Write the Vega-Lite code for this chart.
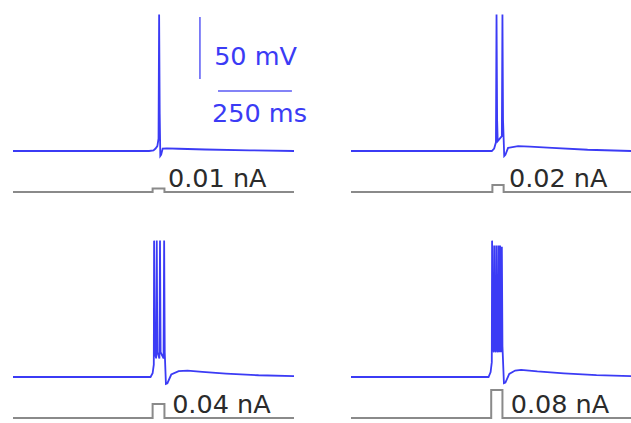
{
  "$schema": "https://vega.github.io/schema/vega-lite/v6.json",
  "padding": {"left": 9, "top": 0, "right": 0, "bottom": 0},
  "bounds": "flush",
  "background": "white",
  "config": {"view": {"stroke": null}, "font": "DejaVu Sans"},
  "data": {"values": [
    {"p":1,"k":"v","t":0,"y":-70},{"p":1,"k":"v","t":460,"y":-70},{"p":1,"k":"v","t":475,"y":-69.5},{"p":1,"k":"v","t":482,"y":-68},{"p":1,"k":"v","t":488,"y":-66},{"p":1,"k":"v","t":492,"y":-60},{"p":1,"k":"v","t":494,"y":40},{"p":1,"k":"v","t":496,"y":-40},{"p":1,"k":"v","t":498,"y":-74},{"p":1,"k":"v","t":501,"y":-73},{"p":1,"k":"v","t":506,"y":-68},{"p":1,"k":"v","t":520,"y":-67.8},{"p":1,"k":"v","t":560,"y":-68.2},{"p":1,"k":"v","t":650,"y":-68.8},{"p":1,"k":"v","t":800,"y":-69.5},{"p":1,"k":"v","t":950,"y":-70},
    {"p":2,"k":"v","t":0,"y":-70},{"p":2,"k":"v","t":476,"y":-70},{"p":2,"k":"v","t":484,"y":-68},{"p":2,"k":"v","t":490,"y":-63},{"p":2,"k":"v","t":492,"y":40},{"p":2,"k":"v","t":494,"y":-45},{"p":2,"k":"v","t":496,"y":-62},{"p":2,"k":"v","t":503,"y":-60},{"p":2,"k":"v","t":510,"y":-58},{"p":2,"k":"v","t":512,"y":40},{"p":2,"k":"v","t":514,"y":-45},{"p":2,"k":"v","t":518,"y":-74},{"p":2,"k":"v","t":522,"y":-73},{"p":2,"k":"v","t":531,"y":-67.5},{"p":2,"k":"v","t":565,"y":-66},{"p":2,"k":"v","t":605,"y":-66.5},{"p":2,"k":"v","t":680,"y":-67.5},{"p":2,"k":"v","t":800,"y":-69},{"p":2,"k":"v","t":950,"y":-70},
    {"p":3,"k":"v","t":0,"y":-70},{"p":3,"k":"v","t":465,"y":-70},{"p":3,"k":"v","t":472,"y":-67},{"p":3,"k":"v","t":476,"y":-60},{"p":3,"k":"v","t":477,"y":40},{"p":3,"k":"v","t":479,"y":-50},{"p":3,"k":"v","t":484,"y":-55},{"p":3,"k":"v","t":486,"y":40},{"p":3,"k":"v","t":488,"y":-50},{"p":3,"k":"v","t":495,"y":-55},{"p":3,"k":"v","t":497,"y":40},{"p":3,"k":"v","t":499,"y":-50},{"p":3,"k":"v","t":509,"y":-55},{"p":3,"k":"v","t":511,"y":40},{"p":3,"k":"v","t":513,"y":-50},{"p":3,"k":"v","t":517,"y":-75.5},{"p":3,"k":"v","t":522,"y":-75},{"p":3,"k":"v","t":535,"y":-68},{"p":3,"k":"v","t":560,"y":-65.3},{"p":3,"k":"v","t":590,"y":-64.9},{"p":3,"k":"v","t":640,"y":-65.8},{"p":3,"k":"v","t":720,"y":-67.2},{"p":3,"k":"v","t":830,"y":-68.6},{"p":3,"k":"v","t":950,"y":-69.3},
    {"p":4,"k":"v","t":0,"y":-70},{"p":4,"k":"v","t":465,"y":-70},{"p":4,"k":"v","t":472,"y":-66},{"p":4,"k":"v","t":476,"y":-58},{"p":4,"k":"v","t":477,"y":40},{"p":4,"k":"v","t":479,"y":-45},{"p":4,"k":"v","t":483,"y":-50},{"p":4,"k":"v","t":484,"y":36},{"p":4,"k":"v","t":486,"y":-45},{"p":4,"k":"v","t":490,"y":-50},{"p":4,"k":"v","t":491,"y":36},{"p":4,"k":"v","t":493,"y":-45},{"p":4,"k":"v","t":497,"y":-50},{"p":4,"k":"v","t":498,"y":36},{"p":4,"k":"v","t":500,"y":-45},{"p":4,"k":"v","t":503,"y":-50},{"p":4,"k":"v","t":504,"y":36},{"p":4,"k":"v","t":506,"y":-45},{"p":4,"k":"v","t":509,"y":-50},{"p":4,"k":"v","t":510,"y":35},{"p":4,"k":"v","t":512,"y":-45},{"p":4,"k":"v","t":517,"y":-75},{"p":4,"k":"v","t":522,"y":-74.5},{"p":4,"k":"v","t":535,"y":-67.5},{"p":4,"k":"v","t":555,"y":-64.8},{"p":4,"k":"v","t":575,"y":-64.2},{"p":4,"k":"v","t":630,"y":-65.5},{"p":4,"k":"v","t":720,"y":-67},{"p":4,"k":"v","t":830,"y":-68.5},{"p":4,"k":"v","t":950,"y":-69.3},
    {"p":1,"k":"i","o":0,"t":0,"y":0},{"p":1,"k":"i","o":1,"t":472,"y":0},{"p":1,"k":"i","o":2,"t":472,"y":0.01},{"p":1,"k":"i","o":3,"t":512,"y":0.01},{"p":1,"k":"i","o":4,"t":512,"y":0},{"p":1,"k":"i","o":5,"t":950,"y":0},
    {"p":2,"k":"i","o":0,"t":0,"y":0},{"p":2,"k":"i","o":1,"t":478,"y":0},{"p":2,"k":"i","o":2,"t":478,"y":0.02},{"p":2,"k":"i","o":3,"t":516,"y":0.02},{"p":2,"k":"i","o":4,"t":516,"y":0},{"p":2,"k":"i","o":5,"t":950,"y":0},
    {"p":3,"k":"i","o":0,"t":0,"y":0},{"p":3,"k":"i","o":1,"t":472,"y":0},{"p":3,"k":"i","o":2,"t":472,"y":0.04},{"p":3,"k":"i","o":3,"t":512,"y":0.04},{"p":3,"k":"i","o":4,"t":512,"y":0},{"p":3,"k":"i","o":5,"t":950,"y":0},
    {"p":4,"k":"i","o":0,"t":0,"y":0},{"p":4,"k":"i","o":1,"t":474,"y":0},{"p":4,"k":"i","o":2,"t":474,"y":0.08},{"p":4,"k":"i","o":3,"t":512,"y":0.08},{"p":4,"k":"i","o":4,"t":512,"y":0},{"p":4,"k":"i","o":5,"t":950,"y":0},
    {"p":1,"k":"lab","t":524,"y":0.014,"s":"0.01 nA"},
    {"p":2,"k":"lab","t":534,"y":0.014,"s":"0.02 nA"},
    {"p":3,"k":"lab","t":538,"y":0.013,"s":"0.04 nA"},
    {"p":4,"k":"lab","t":540,"y":0.013,"s":"0.08 nA"},
    {"p":1,"k":"bar","t":632,"t2":632,"y":-12,"y2":38},
    {"p":1,"k":"bar","t":693,"t2":943,"y":-21.6,"y2":-21.6},
    {"p":1,"k":"bt","t":680,"y":-0.7,"s":"50 mV"},
    {"p":1,"k":"bt","t":673,"y":-46.4,"s":"250 ms"}
  ]},
  "columns": 2,
  "spacing": {"row": 29, "column": 57},
  "concat": [
    {
      "width": 281, "height": 197,
      "transform": [{"filter": "datum.p == 1"}],
      "encoding": {"x": {"field": "t", "type": "quantitative", "scale": {"domain": [0, 950], "nice": false, "zero": false}, "axis": null}},
      "layer": [
        {"transform": [{"filter": "datum.k == 'v'"}], "mark": {"type": "line", "color": "#3b3bf5", "strokeWidth": 1.8},
         "encoding": {"y": {"field": "y", "type": "quantitative", "scale": {"domain": [-107.1, 51.8], "nice": false, "zero": false}, "axis": null}}},
        {"transform": [{"filter": "datum.k == 'i'"}], "mark": {"type": "line", "color": "#8a8a8a", "strokeWidth": 2},
         "encoding": {"y": {"field": "y", "type": "quantitative", "scale": {"domain": [-0.01429, 0.5486], "nice": false, "zero": false}, "axis": null}, "order": {"field": "o", "type": "quantitative"}}},
        {"transform": [{"filter": "datum.k == 'lab'"}], "mark": {"type": "text", "align": "left", "baseline": "alphabetic", "fontSize": 25.5, "color": "#2b2b2b", "font": "DejaVu Sans"},
         "encoding": {"y": {"field": "y", "type": "quantitative", "scale": {"domain": [-0.01429, 0.5486], "nice": false, "zero": false}, "axis": null}, "text": {"field": "s", "type": "nominal"}}},
        {"transform": [{"filter": "datum.k == 'bar'"}], "mark": {"type": "rule", "color": "#5a5af5", "strokeWidth": 1.5},
         "encoding": {"x2": {"field": "t2"}, "y": {"field": "y", "type": "quantitative", "scale": {"domain": [-107.1, 51.8], "nice": false, "zero": false}, "axis": null}, "y2": {"field": "y2"}}},
        {"transform": [{"filter": "datum.k == 'bt'"}], "mark": {"type": "text", "align": "left", "baseline": "alphabetic", "fontSize": 25.5, "color": "#3b3bf5", "font": "DejaVu Sans"},
         "encoding": {"y": {"field": "y", "type": "quantitative", "scale": {"domain": [-107.1, 51.8], "nice": false, "zero": false}, "axis": null}, "text": {"field": "s", "type": "nominal"}}}
      ],
      "resolve": {"scale": {"y": "independent"}}
    },
    {
      "width": 281, "height": 197,
      "transform": [{"filter": "datum.p == 2"}],
      "encoding": {"x": {"field": "t", "type": "quantitative", "scale": {"domain": [0, 950], "nice": false, "zero": false}, "axis": null}},
      "layer": [
        {"transform": [{"filter": "datum.k == 'v'"}], "mark": {"type": "line", "color": "#3b3bf5", "strokeWidth": 1.8},
         "encoding": {"y": {"field": "y", "type": "quantitative", "scale": {"domain": [-107.1, 51.8], "nice": false, "zero": false}, "axis": null}}},
        {"transform": [{"filter": "datum.k == 'i'"}], "mark": {"type": "line", "color": "#8a8a8a", "strokeWidth": 2},
         "encoding": {"y": {"field": "y", "type": "quantitative", "scale": {"domain": [-0.01429, 0.5486], "nice": false, "zero": false}, "axis": null}, "order": {"field": "o", "type": "quantitative"}}},
        {"transform": [{"filter": "datum.k == 'lab'"}], "mark": {"type": "text", "align": "left", "baseline": "alphabetic", "fontSize": 25.5, "color": "#2b2b2b", "font": "DejaVu Sans"},
         "encoding": {"y": {"field": "y", "type": "quantitative", "scale": {"domain": [-0.01429, 0.5486], "nice": false, "zero": false}, "axis": null}, "text": {"field": "s", "type": "nominal"}}}
      ],
      "resolve": {"scale": {"y": "independent"}}
    },
    {
      "width": 281, "height": 197,
      "transform": [{"filter": "datum.p == 3"}],
      "encoding": {"x": {"field": "t", "type": "quantitative", "scale": {"domain": [0, 950], "nice": false, "zero": false}, "axis": null}},
      "layer": [
        {"transform": [{"filter": "datum.k == 'v'"}], "mark": {"type": "line", "color": "#3b3bf5", "strokeWidth": 1.8},
         "encoding": {"y": {"field": "y", "type": "quantitative", "scale": {"domain": [-107.1, 51.8], "nice": false, "zero": false}, "axis": null}}},
        {"transform": [{"filter": "datum.k == 'i'"}], "mark": {"type": "line", "color": "#8a8a8a", "strokeWidth": 2},
         "encoding": {"y": {"field": "y", "type": "quantitative", "scale": {"domain": [-0.01429, 0.5486], "nice": false, "zero": false}, "axis": null}, "order": {"field": "o", "type": "quantitative"}}},
        {"transform": [{"filter": "datum.k == 'lab'"}], "mark": {"type": "text", "align": "left", "baseline": "alphabetic", "fontSize": 25.5, "color": "#2b2b2b", "font": "DejaVu Sans"},
         "encoding": {"y": {"field": "y", "type": "quantitative", "scale": {"domain": [-0.01429, 0.5486], "nice": false, "zero": false}, "axis": null}, "text": {"field": "s", "type": "nominal"}}}
      ],
      "resolve": {"scale": {"y": "independent"}}
    },
    {
      "width": 281, "height": 197,
      "transform": [{"filter": "datum.p == 4"}],
      "encoding": {"x": {"field": "t", "type": "quantitative", "scale": {"domain": [0, 950], "nice": false, "zero": false}, "axis": null}},
      "layer": [
        {"transform": [{"filter": "datum.k == 'v'"}], "mark": {"type": "line", "color": "#3b3bf5", "strokeWidth": 1.8},
         "encoding": {"y": {"field": "y", "type": "quantitative", "scale": {"domain": [-107.1, 51.8], "nice": false, "zero": false}, "axis": null}}},
        {"transform": [{"filter": "datum.k == 'i'"}], "mark": {"type": "line", "color": "#8a8a8a", "strokeWidth": 2},
         "encoding": {"y": {"field": "y", "type": "quantitative", "scale": {"domain": [-0.01429, 0.5486], "nice": false, "zero": false}, "axis": null}, "order": {"field": "o", "type": "quantitative"}}},
        {"transform": [{"filter": "datum.k == 'lab'"}], "mark": {"type": "text", "align": "left", "baseline": "alphabetic", "fontSize": 25.5, "color": "#2b2b2b", "font": "DejaVu Sans"},
         "encoding": {"y": {"field": "y", "type": "quantitative", "scale": {"domain": [-0.01429, 0.5486], "nice": false, "zero": false}, "axis": null}, "text": {"field": "s", "type": "nominal"}}}
      ],
      "resolve": {"scale": {"y": "independent"}}
    }
  ]
}
